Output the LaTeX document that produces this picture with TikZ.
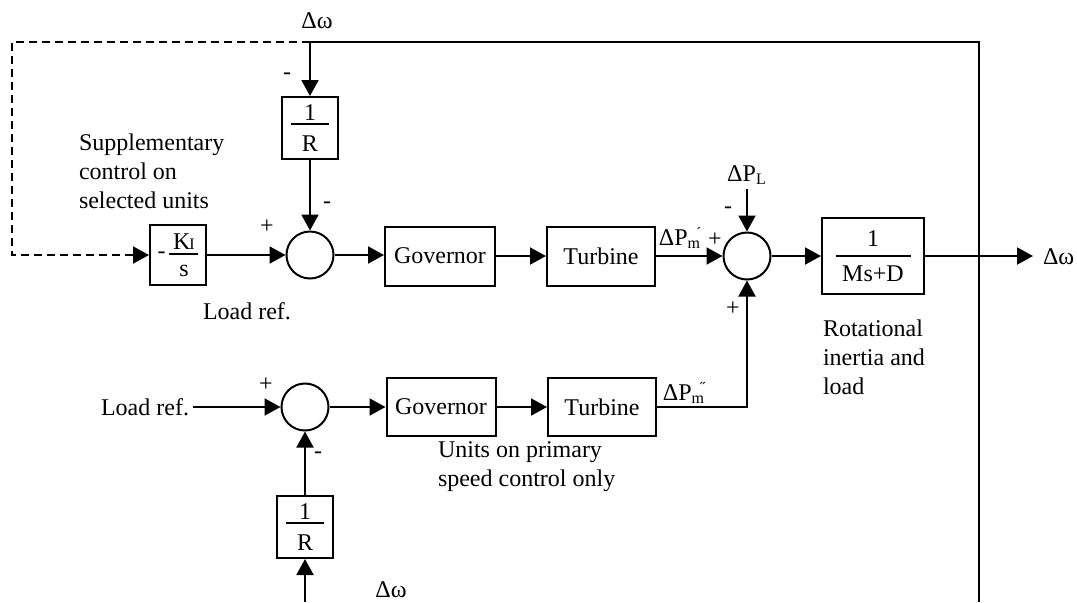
\documentclass[tikz,border=0pt]{standalone}
\usepackage{fontspec}
\setmainfont{Liberation Serif}
\usetikzlibrary{arrows.meta}

% stacked fraction: bar width, gap above bar, gap below bar, numerator, denominator
\newcommand{\fracstack}[5]{\vbox{\hbox to #1{\hss#4\hss}\kern#2\hrule height 0.9pt\kern#3\hbox to #1{\hss#5\hss}}}
% prime marks set over the end of a subscript, taking no width
\newcommand{\primemark}[1]{\rlap{\kern-2.5pt\raisebox{3.5pt}{\footnotesize #1}}}

\begin{document}
\begin{tikzpicture}[x=0.5pt,y=-0.5pt,
  every node/.style={font=\fontsize{12}{14.5}\selectfont},
  line width=1pt,
  >={Triangle[length=8pt,width=8.5pt]},
  blk/.style={draw, inner sep=0pt},
  sumj/.style={draw, circle, minimum size=23.5pt, inner sep=0pt},
  lbl/.style={inner sep=0pt},
  note/.style={inner sep=0pt, anchor=west, align=left},
  fb/.style={dash pattern=on 4pt off 2.5pt}]

\useasboundingbox (0,0) rectangle (1077,602);

% ---------- upper loop: units with supplementary control ----------
\node[blk, minimum width=28pt, minimum height=31pt] (r1) at (310,128)
  {\fracstack{19pt}{1.5pt}{5.5pt}{1}{R}};
\node[sumj] (s1) at (310,255) {};
\node[blk, minimum width=28pt, minimum height=30pt] (ki) at (178,255)
  {$\vcenter{\hbox{-\kern2pt}}\vcenter{\fracstack{14.5pt}{2pt}{5pt}{K\kern-0.5pt{\footnotesize I}}{s}}$};
\node[blk, minimum width=55pt, minimum height=29.5pt] (g1) at (440,256) {Governor};
\node[blk, minimum width=54pt, minimum height=29.5pt] (t1) at (601,256) {Turbine};
\node[sumj] (s2) at (747,256) {};
\node[blk, minimum width=51pt, minimum height=38pt] (m) at (873,256)
  {\fracstack{37.5pt}{4.5pt}{4.5pt}{1}{Ms+D}};

% frequency feedback and the output
\coordinate (tj) at (310,42);
\coordinate (tl) at (12,42);
\coordinate (kin) at (12,255);
\coordinate (tr) at (979,42);
\coordinate (br) at (979,602);
\coordinate (out) at (1033,256);
\coordinate (pl) at (747,189);

\draw[fb,->] (tj) -- (tl) -- (kin) -- (ki.west);
\draw (tj) -- (tr) -- (br);
\draw[->] (tj) -- (r1.north);
\draw[->] (r1) -- (s1);
\draw[->] (ki) -- (s1);
\draw[->] (s1.east) -- (g1.west |- s1.east);
\draw[->] (g1) -- (t1);
\draw[->] (t1) -- (s2);
\draw[->] (pl) -- (s2);
\draw[->] (s2) -- (m.west |- s2.east);
\draw[->] (m.east |- s2.east) -- (out);

\node[lbl] (w1) at (317,21) {Δω};
\node[lbl, anchor=west] (w2) at (1042,257) {Δω};
\node[lbl] (dpl) at (747,175) {ΔP\textsubscript{L}};
\node[lbl] (dpm1) at (680,238) {ΔP\textsubscript{m}\primemark{´}};

\node[lbl] (n1) at (287,76) {-};
\node[lbl] (n2) at (327,205) {-};
\node[lbl] (p1) at (267,227) {+};
\node[lbl] (n3) at (728,210) {-};
\node[lbl] (p2) at (715,240) {+};
\node[lbl] (p3) at (733,309) {+};

\node[note] (supp) at (78,171) {Supplementary\\control on\\selected units};
\node[lbl] (lr1) at (247,311) {Load ref.};
\node[note] (rot) at (822,357) {Rotational\\inertia and\\load};

% ---------- lower loop: units on primary control only ----------
\node[sumj] (s3) at (305,407) {};
\node[inner sep=1.5pt, anchor=east] (lr2) at (193,407) {Load ref.};
\node[blk, minimum width=54.5pt, minimum height=29pt] (g2) at (441,407) {Governor};
\node[blk, minimum width=54pt, minimum height=29pt] (t2) at (602,407) {Turbine};
\node[blk, minimum width=28pt, minimum height=31pt] (r2) at (305,527)
  {\fracstack{19pt}{1.5pt}{5.5pt}{1}{R}};

\coordinate (c2) at (747,407);
\coordinate (bin) at (305,602);

\draw[->] (lr2) -- (s3);
\draw[->] (s3) -- (g2);
\draw[->] (g2) -- (t2);
\draw[->] (t2.east) -- (c2) -- (s2.south);
\draw[->] (r2) -- (s3);
\draw[->] (bin) -- (r2);

\node[lbl] (dpm2) at (684,393) {ΔP\textsubscript{m}\primemark{˝}};
\node[lbl] (p4) at (266,385) {+};
\node[lbl] (n4) at (318,455) {-};
\node[lbl] (w3) at (391,590) {Δω};
\node[note] (units) at (437,467) {Units on primary\\speed control only};

\end{tikzpicture}
\end{document}
